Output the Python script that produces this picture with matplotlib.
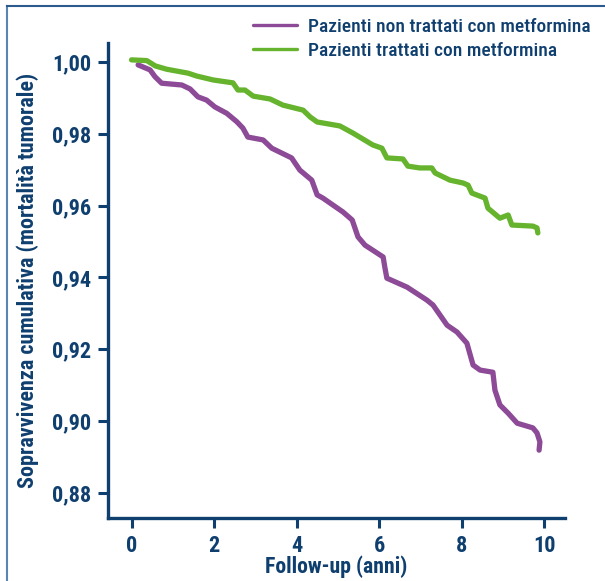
import matplotlib
matplotlib.use("Agg")
import matplotlib.pyplot as plt
from matplotlib.lines import Line2D

# === data ===
anni_non = [0.16, 0.45, 0.57, 0.73, 1.22, 1.42, 1.61, 1.82, 2.02, 2.31, 2.55, 2.70,
            2.82, 3.19, 3.40, 3.88, 4.08, 4.37, 4.50, 4.64, 5.13, 5.35, 5.49, 5.66,
            6.10, 6.14, 6.19, 6.68, 7.16, 7.31, 7.65, 7.89, 8.13, 8.28, 8.45, 8.76,
            8.81, 8.93, 9.13, 9.35, 9.73, 9.83, 9.90, 9.88]
surv_non = [0.9992, 0.9978, 0.9959, 0.9941, 0.9936, 0.9925, 0.9903, 0.9894, 0.9875,
            0.9857, 0.9834, 0.9816, 0.9791, 0.9783, 0.9760, 0.9733, 0.9699, 0.9671,
            0.9630, 0.9621, 0.9582, 0.9560, 0.9513, 0.9490, 0.9457, 0.9429, 0.9398,
            0.9373, 0.9337, 0.9323, 0.9267, 0.9248, 0.9217, 0.9156, 0.9142, 0.9136,
            0.9086, 0.9045, 0.9022, 0.8994, 0.8981, 0.8967, 0.8942, 0.8919]

anni_met = [0.0, 0.37, 0.58, 0.85, 1.37, 1.58, 1.98, 2.46, 2.58, 2.75, 2.95, 3.36,
            3.67, 4.16, 4.33, 4.50, 5.05, 5.37, 5.85, 6.07, 6.19, 6.58, 6.70, 6.99,
            7.28, 7.36, 7.72, 8.04, 8.16, 8.25, 8.57, 8.64, 8.93, 9.13, 9.22, 9.73,
            9.83, 9.85]
surv_met = [1.0006, 1.0004, 0.9989, 0.9980, 0.9969, 0.9961, 0.9950, 0.9942, 0.9922,
            0.9922, 0.9905, 0.9897, 0.9880, 0.9866, 0.9847, 0.9833, 0.9822, 0.9802,
            0.9769, 0.9760, 0.9733, 0.9730, 0.9710, 0.9705, 0.9705, 0.9691, 0.9671,
            0.9663, 0.9657, 0.9635, 0.9621, 0.9593, 0.9565, 0.9574, 0.9546, 0.9543,
            0.9538, 0.9524]

x_ticks = [0, 2, 4, 6, 8, 10]
y_ticks = [0.88, 0.90, 0.92, 0.94, 0.96, 0.98, 1.00]
y_tick_labels = ["0,88", "0,90", "0,92", "0,94", "0,96", "0,98", "1,00"]

BLU = "#0f3f6f"
VIOLA = "#8c4a97"
VERDE = "#66b32e"
FONT = ["Roboto Condensed", "Fira Sans Condensed", "Barlow Condensed", "DejaVu Sans"]

plt.rcParams['font.family'] = FONT

fig = plt.figure(figsize=(6.05, 5.81), dpi=100)
ax = fig.add_axes([0.1785, 0.1084, 0.934 - 0.1785, 0.926 - 0.1084])

ax.plot(anni_non, surv_non, color=VIOLA, lw=3.8, solid_capstyle="round",
        solid_joinstyle="round", label="Pazienti non trattati con metformina")
ax.plot(anni_met, surv_met, color=VERDE, lw=3.8, solid_capstyle="round",
        solid_joinstyle="round", label="Pazienti trattati con metformina")

ax.set_xlim(-0.57, 10.51)
ax.set_ylim(0.873, 1.0053)
ax.set_xticks(x_ticks)
ax.set_yticks(y_ticks)
ax.set_yticklabels(y_tick_labels)

for s in ["top", "right"]:
    ax.spines[s].set_visible(False)
for s in ["left", "bottom"]:
    ax.spines[s].set_color(BLU)
    ax.spines[s].set_linewidth(2.4)

ax.tick_params(colors=BLU, width=2.2, length=7, labelsize=16, pad=5)
for lab in ax.get_xticklabels() + ax.get_yticklabels():
    lab.set_fontweight("bold")

fig.text(28 / 605, 1 - 280 / 581, "Sopravvivenza cumulativa (mortalità tumorale)",
         rotation=90, ha="center", va="center", color=BLU, fontsize=15.9,
         fontweight="bold")
fig.text(336 / 605, 1 - 567 / 581, "Follow-up (anni)", ha="center", va="center",
         color=BLU, fontsize=15.7, fontweight="bold")

leg = ax.legend(loc="upper left", bbox_to_anchor=(253 / 605, 1 - 18 / 581),
                bbox_transform=fig.transFigure, frameon=False,
                prop={"size": 14, "weight": "medium"},
                handlelength=2.27, handletextpad=0.57, labelspacing=0.3,
                borderpad=0, borderaxespad=0)
for t in leg.get_texts():
    t.set_color(BLU)
for h in leg.get_lines():
    h.set_linewidth(2.4)

# cornice della figura
fig.add_artist(Line2D([6.5 / 605, 6.5 / 605], [0, 1 - 5.5 / 581],
                      transform=fig.transFigure, color="#5b84b1", lw=1.5))
fig.add_artist(Line2D([6.5 / 605, 1], [1 - 5.5 / 581, 1 - 5.5 / 581],
                      transform=fig.transFigure, color="#2b5b8c", lw=1.5))

fig.savefig("out.png", dpi=100)
